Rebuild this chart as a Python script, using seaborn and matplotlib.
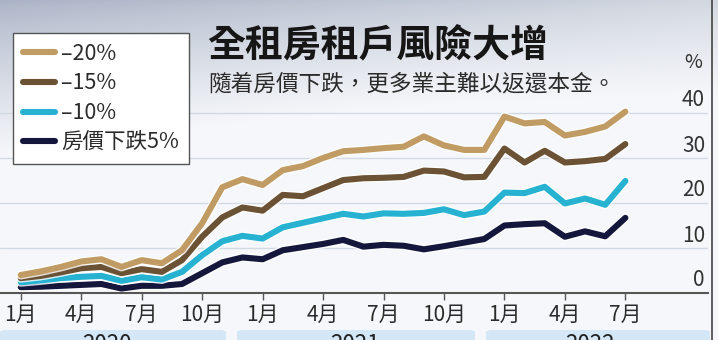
import numpy as np
import pandas as pd
import matplotlib
matplotlib.use("Agg")
import matplotlib.pyplot as plt
import seaborn as sns
from matplotlib import patheffects as pe
from matplotlib.transforms import ScaledTranslation
from matplotlib.patches import FancyBboxPatch
from matplotlib.lines import Line2D

# ---------------- data ----------------
month_index = list(range(31))  # Jan 2020 .. Jul 2022
tick_positions = [0, 3, 6, 9, 12, 15, 18, 21, 24, 27, 30]
tick_labels = ["1月", "4月", "7月", "10月", "1月", "4月", "7月", "10月", "1月", "4月", "7月"]
years = ["2020", "2021", "2022"]
y_ticks = [0, 10, 20, 30, 40]

drop20 = [4.0, 4.8, 5.8, 7.0, 7.5, 5.8, 7.3, 6.6, 9.5, 15.5, 23.5, 25.3, 24.0, 27.3, 28.2, 30.0,
          31.5, 31.8, 32.2, 32.5, 34.8, 32.8, 31.8, 31.8, 39.2, 37.7, 38.0, 35.0, 35.8, 37.0, 40.3]
drop15 = [3.3, 3.8, 4.6, 5.5, 5.8, 4.4, 5.3, 4.7, 7.3, 12.5, 16.8, 19.0, 18.3, 21.8, 21.5, 23.3,
          25.1, 25.5, 25.6, 25.8, 27.2, 27.0, 25.7, 25.8, 32.1, 29.0, 31.6, 29.0, 29.3, 29.8, 33.1]
drop10 = [2.4, 2.8, 3.3, 3.6, 3.8, 2.7, 3.5, 3.0, 4.7, 8.4, 11.5, 12.7, 12.1, 14.6, 15.6, 16.6,
          17.6, 17.0, 17.7, 17.6, 17.8, 18.6, 17.3, 18.1, 22.3, 22.2, 23.6, 19.9, 21.0, 19.6, 24.9]
drop5 = [1.3, 1.4, 1.6, 1.8, 2.0, 1.0, 1.6, 1.6, 2.0, 4.4, 6.8, 7.9, 7.5, 9.5, 10.2, 10.9,
         11.8, 10.3, 10.7, 10.5, 9.7, 10.4, 11.2, 12.0, 15.0, 15.3, 15.5, 12.5, 13.7, 12.6, 16.7]

series_names = ["–20%", "–15%", "–10%", "房價下跌5%"]
series_values = [drop20, drop15, drop10, drop5]
colors = ["#c09b63", "#6b5234", "#27b2d2", "#15163b"]

title = "全租房租戶風險大增"
subtitle = "隨着房價下跌，更多業主難以返還本金。"

df = pd.concat([pd.DataFrame({"month": month_index, "value": v, "series": n})
                for n, v in zip(series_names, series_values)], ignore_index=True)

# ---------------- style ----------------
sns.set_theme(style="white")
plt.rcParams["font.family"] = ["Noto Sans CJK TC", "DejaVu Sans"]

W, H = 718, 340
fig = plt.figure(figsize=(W / 100, H / 100), dpi=100)

# background (sky gradient)
bg = fig.add_axes([0, 0, 1, 1], zorder=-10)
yy, xx = np.mgrid[0:H, 0:W]
fade = 95 + 60 * (1 - xx / W) ** 2
t = np.clip(yy / fade, 0, 1) ** 0.8
top = np.stack([170 + 40 * (xx / W), 179 + 36 * (xx / W), 198 + 26 * (xx / W)], axis=-1)
bottom = np.array([245, 247, 250])
img = top * (1 - t[..., None]) + bottom * t[..., None]
bg.imshow(img.astype(np.uint8), aspect="auto", extent=[0, W, H, 0])
bg.set_axis_off()

def fx(px):
    return px / W

def fy(py):
    return 1 - py / H

# main axes: x pixel 0..708, y pixel 5..293
ax = fig.add_axes([0, fy(293), fx(708), (293 - 5) / H])
ax.set_facecolor("none")

sns.lineplot(data=df, x="month", y="value", hue="series", hue_order=series_names[::-1],
             palette=dict(zip(series_names, colors)), linewidth=4.4, ax=ax, legend=False,
             sort=False)
for line in ax.get_lines():
    line.set_solid_joinstyle("round")
    line.set_solid_capstyle("round")
    line.set_path_effects([pe.Stroke(linewidth=6.5, foreground="white", alpha=0.8), pe.Normal()])

ax.set_xlim(-1.03, 34.1)
ax.set_ylim(0, 64)
ax.set_xlabel("")
ax.set_ylabel("")

ax.set_xticks(tick_positions)
ax.set_xticklabels(tick_labels)
ax.tick_params(axis="x", direction="out", length=5, width=1, color="#555555",
               labelsize=15, labelcolor="#2b2b2b", pad=3, bottom=True)

ax.set_yticks(y_ticks)
ax.set_yticklabels([str(v) for v in y_ticks])
ax.yaxis.tick_right()
ax.tick_params(axis="y", length=0, pad=0, labelsize=15, labelcolor="#333333")
ax.grid(axis="y", color="#d3d9e2", linewidth=1)
ax.grid(axis="x", visible=False)
offset = ScaledTranslation(-3 / 100, 15 / 100, fig.dpi_scale_trans)
for lbl in ax.get_yticklabels():
    lbl.set_horizontalalignment("right")
    lbl.set_transform(lbl.get_transform() + offset)

for s in ["top", "left", "right"]:
    ax.spines[s].set_visible(False)
ax.spines["bottom"].set_color("#555555")
ax.spines["bottom"].set_linewidth(1.5)

# % unit label
fig.text(fx(693), fy(62), "%", fontsize=14, color="#333333", ha="center", va="center")

# title and subtitle
fig.text(fx(207), fy(45), title, fontsize=27.3, fontweight="bold", color="#161616",
         ha="left", va="center")
fig.text(fx(208), fy(84), subtitle, fontsize=16.3, color="#2a2a2a", ha="left", va="center")

# legend
handles = [Line2D([0], [0], color=c, linewidth=4.4, solid_capstyle="round") for c in colors]
leg = fig.legend(handles, series_names, loc="upper left",
                 bbox_to_anchor=(fx(13), fy(33)), bbox_transform=fig.transFigure,
                 frameon=True, fancybox=False, framealpha=1, facecolor="white",
                 edgecolor="#555555", fontsize=15.5, handlelength=1.5, handletextpad=0.3,
                 labelspacing=0.36, borderpad=0.45, borderaxespad=0)
leg.get_frame().set_linewidth(1)
for txt in leg.get_texts():
    txt.set_color("#2a2a2a")

# year bands at bottom (text cut by the lower edge, as in the original)
bands = [(0, 226, years[0], 107), (237, 475, years[1], 355), (486, 710, years[2], 590)]
for x0, x1, yr, xc in bands:
    fig.patches.append(FancyBboxPatch((fx(x0), fy(346)), fx(x1 - x0), (346 - 330) / H,
                                      boxstyle="round,pad=0,rounding_size=0.008",
                                      transform=fig.transFigure, facecolor="#d4e7f6",
                                      edgecolor="none", zorder=1))
    fig.text(fx(xc), fy(333), yr, fontsize=16, color="#222222", ha="center", va="top")

# right frame line
fig.add_artist(Line2D([fx(712), fx(712)], [0, 1], transform=fig.transFigure,
                      color="#444444", linewidth=1.2))

fig.savefig("out.png", dpi=100)
